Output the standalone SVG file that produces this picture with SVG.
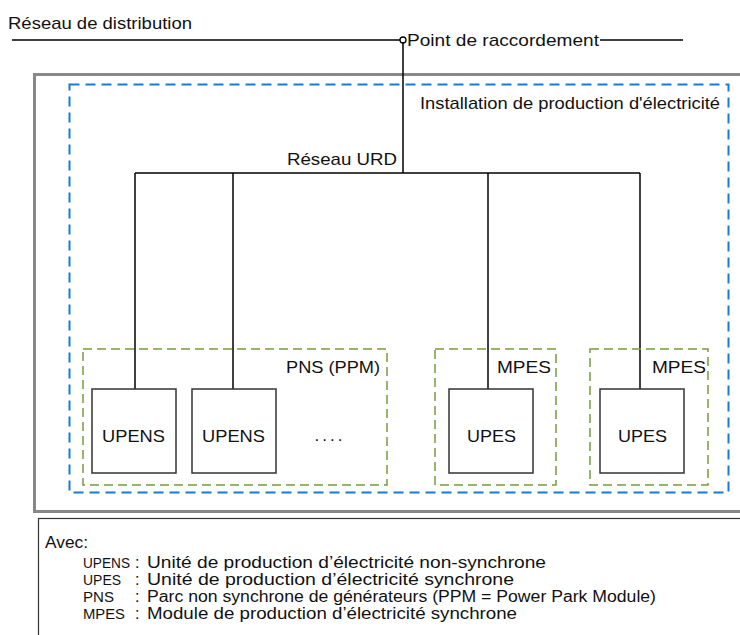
<svg xmlns="http://www.w3.org/2000/svg" width="740" height="635" viewBox="0 0 740 635">
<style>
text{font-family:"Liberation Sans",Arial,sans-serif;fill:#111;}
.t{font-size:17px;}
.s{font-size:16px;}
.a{font-size:15px;}
.wire{stroke:#000;stroke-width:1.5;fill:none;}
.unit{fill:#fff;stroke:#333;stroke-width:1.5;}
.grp{fill:none;stroke:#7a9a3a;stroke-width:1.5;stroke-dasharray:9,5;}
</style>
<rect width="740" height="635" fill="#fff"/>
<g id="outer">
<rect x="34.5" y="74.5" width="720" height="437" fill="none" stroke="#888" stroke-width="3"/>
</g>
<g id="installation">
<rect x="69.5" y="84.5" width="659" height="408" fill="none" stroke="#1a7ad0" stroke-width="2" stroke-dasharray="10,6"/>
<text class="t" x="420" y="109" textLength="300" lengthAdjust="spacingAndGlyphs">Installation de production d'électricité</text>
</g>
<g id="connectors">
<line class="wire" x1="12" y1="40" x2="400" y2="40"/>
<line class="wire" x1="600" y1="40" x2="683" y2="40"/>
<circle cx="403" cy="40" r="3" fill="#fff" stroke="#000" stroke-width="1.3"/>
<line class="wire" x1="403" y1="43" x2="403" y2="173"/>
<line class="wire" x1="135" y1="173" x2="640" y2="173"/>
<line class="wire" x1="135" y1="173" x2="135" y2="389"/>
<line class="wire" x1="233" y1="173" x2="233" y2="389"/>
<line class="wire" x1="488" y1="173" x2="488" y2="389"/>
<line class="wire" x1="640" y1="173" x2="640" y2="389"/>
</g>
<g id="reseau-distribution">
<text class="t" x="8" y="29" textLength="184" lengthAdjust="spacingAndGlyphs">Réseau de distribution</text>
</g>
<g id="point-raccordement">
<text class="t" x="407" y="46" textLength="192" lengthAdjust="spacingAndGlyphs">Point de raccordement</text>
</g>
<g id="reseau-urd">
<text class="t" x="287" y="165" textLength="110" lengthAdjust="spacingAndGlyphs">Réseau URD</text>
</g>
<g id="pns">
<rect class="grp" x="83" y="349" width="304" height="136"/>
<text class="t" x="286" y="373" textLength="94" lengthAdjust="spacingAndGlyphs">PNS (PPM)</text>
</g>
<g id="mpes1">
<rect class="grp" x="435" y="349" width="121" height="136"/>
<text class="t" x="497" y="373" textLength="54" lengthAdjust="spacingAndGlyphs">MPES</text>
</g>
<g id="mpes2">
<rect class="grp" x="590" y="349" width="118" height="136"/>
<text class="t" x="652" y="373" textLength="54" lengthAdjust="spacingAndGlyphs">MPES</text>
</g>
<g id="upens1">
<rect class="unit" x="92" y="389" width="84" height="84"/>
<text class="t" x="102" y="442" textLength="63" lengthAdjust="spacingAndGlyphs">UPENS</text>
</g>
<g id="upens2">
<rect class="unit" x="192" y="389" width="84" height="84"/>
<text class="t" x="202" y="442" textLength="63" lengthAdjust="spacingAndGlyphs">UPENS</text>
</g>
<g id="dots">
<text class="t" x="330" y="441" text-anchor="middle" letter-spacing="3">....</text>
</g>
<g id="upes1">
<rect class="unit" x="449" y="389" width="84" height="84"/>
<text class="t" x="467" y="442" textLength="49" lengthAdjust="spacingAndGlyphs">UPES</text>
</g>
<g id="upes2">
<rect class="unit" x="600" y="389" width="84" height="84"/>
<text class="t" x="618" y="442" textLength="49" lengthAdjust="spacingAndGlyphs">UPES</text>
</g>
<g id="legend">
<rect x="38.5" y="518.5" width="720" height="130" fill="#fff" stroke="#333" stroke-width="1.2"/>
<text class="s" x="45" y="548" textLength="43" lengthAdjust="spacingAndGlyphs">Avec:</text>
<text class="a" x="83" y="568" textLength="47" lengthAdjust="spacingAndGlyphs">UPENS</text><text class="s" x="135" y="568">:</text><text class="s" x="147" y="568" textLength="399" lengthAdjust="spacingAndGlyphs">Unité de production d’électricité non-synchrone</text>
<text class="a" x="83" y="585" textLength="38" lengthAdjust="spacingAndGlyphs">UPES</text><text class="s" x="135" y="585">:</text><text class="s" x="147" y="585" textLength="367" lengthAdjust="spacingAndGlyphs">Unité de production d’électricité synchrone</text>
<text class="a" x="83" y="602" textLength="31" lengthAdjust="spacingAndGlyphs">PNS</text><text class="s" x="135" y="602">:</text><text class="s" x="147" y="602" textLength="509" lengthAdjust="spacingAndGlyphs">Parc non synchrone de générateurs (PPM = Power Park Module)</text>
<text class="a" x="83" y="619" textLength="42" lengthAdjust="spacingAndGlyphs">MPES</text><text class="s" x="135" y="619">:</text><text class="s" x="147" y="619" textLength="370" lengthAdjust="spacingAndGlyphs">Module de production d’électricité synchrone</text>
</g>
</svg>
